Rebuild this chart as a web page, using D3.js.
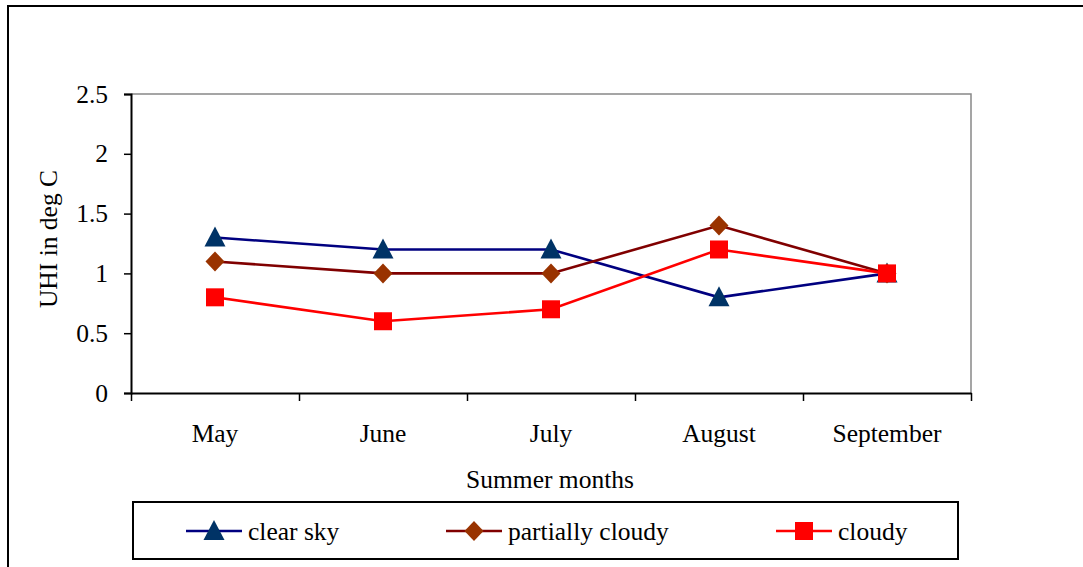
<!DOCTYPE html>
<html>
<head>
<meta charset="utf-8">
<script src="https://cdn.jsdelivr.net/npm/d3@7"></script>
<style>
  html, body { margin: 0; padding: 0; background: #fff; }
  svg { display: block; }
  text { font-family: "Liberation Serif", "Times New Roman", serif; fill: #000; }
</style>
</head>
<body>
<svg id="chart" width="1083" height="567"></svg>
<script>
// Urban heat island intensity by summer month and sky condition
const months = ["May", "June", "July", "August", "September"];
const clearSky = [1.3, 1.2, 1.2, 0.8, 1.0];
const partiallyCloudy = [1.1, 1.0, 1.0, 1.4, 1.0];
const cloudy = [0.8, 0.6, 0.7, 1.2, 1.0];
const yTicks = [0, 0.5, 1, 1.5, 2, 2.5];

const seriesNames = ["clear sky", "partially cloudy", "cloudy"];

const series = [
  { name: seriesNames[0], values: clearSky, line: "#000080", fill: "#003366", shape: "triangle" },
  { name: seriesNames[1], values: partiallyCloudy, line: "#800000", fill: "#993300", shape: "diamond" },
  { name: seriesNames[2], values: cloudy, line: "#ff0000", fill: "#ff0000", shape: "square" }
];

const svg = d3.select("#chart");
const plot = { left: 131, right: 971, top: 94, bottom: 393 };
const fontSize = "25.5px";

// outer frame
svg.append("rect")
  .attr("x", 8).attr("y", 6)
  .attr("width", 1100).attr("height", 600)
  .attr("fill", "none").attr("stroke", "#000").attr("stroke-width", 2);

const x = d3.scaleBand().domain(months).range([plot.left, plot.right]).padding(0);
const xc = m => x(m) + x.bandwidth() / 2;
const y = d3.scaleLinear().domain([0, 2.5]).range([plot.bottom, plot.top]);

// plot area border (top & right)
svg.append("path")
  .attr("d", `M${plot.left},${plot.top}H${plot.right}V${plot.bottom}`)
  .attr("fill", "none").attr("stroke", "#888").attr("stroke-width", 1.5);

// y axis
const yAxis = svg.append("g")
  .attr("transform", `translate(${plot.left},0)`)
  .call(d3.axisLeft(y).tickValues(yTicks).tickSize(7).tickPadding(16).tickFormat(d => String(d)));
yAxis.select(".domain").attr("stroke", "#000").attr("stroke-width", 2);
yAxis.selectAll(".tick line").attr("stroke", "#000").attr("stroke-width", 1.5);
yAxis.selectAll("text").style("font-size", fontSize).style("font-family", "Liberation Serif");

// x axis: ticks at category boundaries, labels centred in each band
const xb = d3.scaleLinear().domain([0, months.length]).range([plot.left, plot.right]);
const xAxis = svg.append("g")
  .attr("transform", `translate(0,${plot.bottom})`)
  .call(d3.axisBottom(xb).tickValues(d3.range(months.length + 1)).tickSize(8).tickSizeOuter(0).tickFormat(""));
xAxis.select(".domain").attr("stroke", "#000").attr("stroke-width", 2);
xAxis.selectAll(".tick line").attr("stroke", "#000").attr("stroke-width", 1.5);

svg.append("g").selectAll("text")
  .data(months).join("text")
  .attr("x", d => xc(d)).attr("y", 442)
  .attr("text-anchor", "middle")
  .style("font-size", fontSize)
  .text(d => d);

// axis titles
svg.append("text")
  .attr("x", 550).attr("y", 488)
  .attr("text-anchor", "middle")
  .style("font-size", fontSize)
  .text("Summer months");

svg.append("text")
  .attr("transform", "translate(57,239) rotate(-90)")
  .attr("text-anchor", "middle")
  .style("font-size", fontSize)
  .text("UHI in deg C");

// marker shapes
function markerPath(shape) {
  if (shape === "triangle") return "M0,-11L10.5,9L-10.5,9Z";
  if (shape === "diamond") return "M0,-10L9.5,0L0,10L-9.5,0Z";
  return "M-9,-9H9V9H-9Z";
}

const line = d3.line().x((d, i) => xc(months[i])).y(d => y(d));

series.forEach(s => {
  const g = svg.append("g");
  g.append("path")
    .attr("d", line(s.values))
    .attr("fill", "none").attr("stroke", s.line).attr("stroke-width", 2.6);
  g.selectAll("path.mk")
    .data(s.values).join("path")
    .attr("class", "mk")
    .attr("transform", (d, i) => `translate(${xc(months[i])},${y(d)})`)
    .attr("d", markerPath(s.shape))
    .attr("fill", s.fill);
});

// legend
const legend = svg.append("g");
legend.append("rect")
  .attr("x", 133).attr("y", 502).attr("width", 825).attr("height", 57)
  .attr("fill", "#fff").attr("stroke", "#000").attr("stroke-width", 2);

const legendX = [186, 446, 776];
series.forEach((s, i) => {
  const g = legend.append("g").attr("transform", `translate(${legendX[i]},531)`);
  g.append("line").attr("x1", 0).attr("x2", 56).attr("y1", 0).attr("y2", 0)
    .attr("stroke", s.line).attr("stroke-width", 2.6);
  g.append("path").attr("transform", "translate(28,0)")
    .attr("d", markerPath(s.shape)).attr("fill", s.fill);
  g.append("text").attr("x", 62).attr("y", 9)
    .style("font-size", fontSize)
    .text(s.name);
});
</script>
</body>
</html>
